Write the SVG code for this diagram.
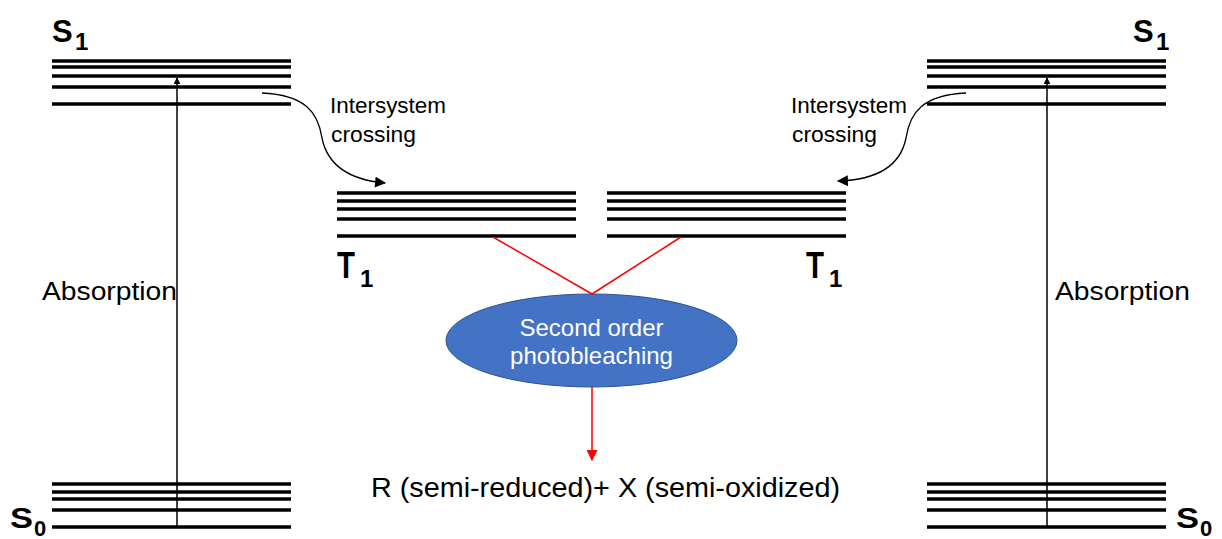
<svg xmlns="http://www.w3.org/2000/svg" width="1222" height="539" viewBox="0 0 1222 539">
  <style>
    .lvl { stroke: #000; stroke-width: 3.6; }
    .lbl { font-family: "Liberation Sans", Arial, sans-serif; fill: #000; }
    .state { font-family: "Liberation Sans", Arial, sans-serif; font-weight: bold; fill: #000; }
    .abs { stroke: #000; stroke-width: 1.5; fill: none; }
    .isc { stroke: #000; stroke-width: 1.3; fill: none; }
    .red { stroke: #ff0000; stroke-width: 1.5; fill: none; }
    .white { fill: #ffffff; }
  </style>
  <defs>
    <marker id="blackHead" viewBox="0 0 10 10" refX="9" refY="5" markerWidth="7" markerHeight="7" markerUnits="userSpaceOnUse" orient="auto">
      <path d="M0,0 L10,5 L0,10 Z" fill="#000"/>
    </marker>
    <marker id="iscHead" viewBox="0 0 10 10" refX="9" refY="5" markerWidth="12" markerHeight="11" markerUnits="userSpaceOnUse" orient="auto">
      <path d="M0,0 L10,5 L0,10 Z" fill="#000"/>
    </marker>
    <marker id="redHead" viewBox="0 0 10 10" refX="9" refY="5" markerWidth="11" markerHeight="11" markerUnits="userSpaceOnUse" orient="auto">
      <path d="M0,0 L10,5 L0,10 Z" fill="#ff0000"/>
    </marker>
  </defs>

  <!-- left singlet S1 manifold -->
  <g id="left-S1">
    <line class="lvl" x1="52" y1="61" x2="291" y2="61"/>
    <line class="lvl" x1="52" y1="67" x2="291" y2="67"/>
    <line class="lvl" x1="52" y1="76" x2="291" y2="76"/>
    <line class="lvl" x1="52" y1="87" x2="291" y2="87"/>
    <line class="lvl" x1="52" y1="104" x2="291" y2="104"/>
    <text class="state" x="52" y="42" font-size="31">S</text>
    <text class="state" x="75" y="50" font-size="24">1</text>
  </g>

  <!-- left ground state S0 manifold -->
  <g id="left-S0">
    <line class="lvl" x1="52" y1="484" x2="291" y2="484"/>
    <line class="lvl" x1="52" y1="492" x2="291" y2="492"/>
    <line class="lvl" x1="52" y1="499" x2="291" y2="499"/>
    <line class="lvl" x1="52" y1="510" x2="291" y2="510"/>
    <line class="lvl" x1="52" y1="527" x2="291" y2="527"/>
    <text class="state" x="10" y="528" font-size="30" textLength="23" lengthAdjust="spacingAndGlyphs">S</text>
    <text class="state" x="34" y="536" font-size="22">0</text>
  </g>

  <!-- left triplet T1 manifold -->
  <g id="left-T1">
    <line class="lvl" x1="337" y1="193" x2="576" y2="193"/>
    <line class="lvl" x1="337" y1="201" x2="576" y2="201"/>
    <line class="lvl" x1="337" y1="209" x2="576" y2="209"/>
    <line class="lvl" x1="337" y1="219" x2="576" y2="219"/>
    <line class="lvl" x1="337" y1="236" x2="576" y2="236"/>
    <text class="state" x="337" y="278" font-size="37" textLength="18" lengthAdjust="spacingAndGlyphs">T</text>
    <text class="state" x="360" y="287" font-size="24">1</text>
  </g>

  <!-- right triplet T1 manifold -->
  <g id="right-T1">
    <line class="lvl" x1="607" y1="193" x2="846" y2="193"/>
    <line class="lvl" x1="607" y1="201" x2="846" y2="201"/>
    <line class="lvl" x1="607" y1="209" x2="846" y2="209"/>
    <line class="lvl" x1="607" y1="219" x2="846" y2="219"/>
    <line class="lvl" x1="607" y1="236" x2="846" y2="236"/>
    <text class="state" x="806" y="278" font-size="37" textLength="18" lengthAdjust="spacingAndGlyphs">T</text>
    <text class="state" x="829" y="287" font-size="24">1</text>
  </g>

  <!-- right singlet S1 manifold -->
  <g id="right-S1">
    <line class="lvl" x1="927" y1="61" x2="1166" y2="61"/>
    <line class="lvl" x1="927" y1="67" x2="1166" y2="67"/>
    <line class="lvl" x1="927" y1="76" x2="1166" y2="76"/>
    <line class="lvl" x1="927" y1="87" x2="1166" y2="87"/>
    <line class="lvl" x1="927" y1="104" x2="1166" y2="104"/>
    <text class="state" x="1133" y="42" font-size="31">S</text>
    <text class="state" x="1156" y="50" font-size="24">1</text>
  </g>

  <!-- right ground state S0 manifold -->
  <g id="right-S0">
    <line class="lvl" x1="927" y1="484" x2="1166" y2="484"/>
    <line class="lvl" x1="927" y1="492" x2="1166" y2="492"/>
    <line class="lvl" x1="927" y1="499" x2="1166" y2="499"/>
    <line class="lvl" x1="927" y1="510" x2="1166" y2="510"/>
    <line class="lvl" x1="927" y1="527" x2="1166" y2="527"/>
    <text class="state" x="1176" y="528" font-size="30" textLength="23" lengthAdjust="spacingAndGlyphs">S</text>
    <text class="state" x="1200" y="536" font-size="22">0</text>
  </g>

  <!-- second order photobleaching ellipse -->
  <g id="photobleaching">
    <ellipse cx="591.5" cy="340.5" rx="145.5" ry="46.5" fill="#4472c4" stroke="#2f528f" stroke-width="1"/>
    <text class="lbl white" x="591.5" y="336" font-size="24" text-anchor="middle">Second order</text>
    <text class="lbl white" x="591.5" y="364" font-size="24" text-anchor="middle">photobleaching</text>
  </g>

  <!-- product label -->
  <g id="products">
    <text class="lbl" x="371" y="497" font-size="27" textLength="469" lengthAdjust="spacingAndGlyphs">R (semi-reduced)+ X (semi-oxidized)</text>
  </g>

  <!-- transition labels -->
  <g id="labels">
    <text class="lbl" x="42" y="300" font-size="26" textLength="135" lengthAdjust="spacingAndGlyphs">Absorption</text>
    <text class="lbl" x="1055" y="300" font-size="26" textLength="135" lengthAdjust="spacingAndGlyphs">Absorption</text>
    <text class="lbl" x="330" y="113" font-size="22" textLength="116" lengthAdjust="spacingAndGlyphs">Intersystem</text>
    <text class="lbl" x="331" y="142" font-size="22" textLength="85" lengthAdjust="spacingAndGlyphs">crossing</text>
    <text class="lbl" x="791" y="113" font-size="22" textLength="116" lengthAdjust="spacingAndGlyphs">Intersystem</text>
    <text class="lbl" x="792" y="142" font-size="22" textLength="85" lengthAdjust="spacingAndGlyphs">crossing</text>
  </g>

  <!-- connectors -->
  <g id="connectors">
    <line class="abs" x1="177" y1="527" x2="177" y2="78" marker-end="url(#blackHead)"/>
    <line class="abs" x1="1047" y1="527" x2="1047" y2="78" marker-end="url(#blackHead)"/>
    <path class="isc" d="M262,93 C305,95 318,112 322,138 C328,168 352,180 385,183" marker-end="url(#iscHead)"/>
    <path class="isc" d="M966,93 C923,95 910,112 906,138 C900,168 873,180 838,181" marker-end="url(#iscHead)"/>
    <line class="red" x1="493" y1="237" x2="592" y2="294"/>
    <line class="red" x1="681" y1="237" x2="592" y2="294"/>
    <line class="red" x1="592" y1="387" x2="592" y2="460" marker-end="url(#redHead)"/>
  </g>
</svg>
